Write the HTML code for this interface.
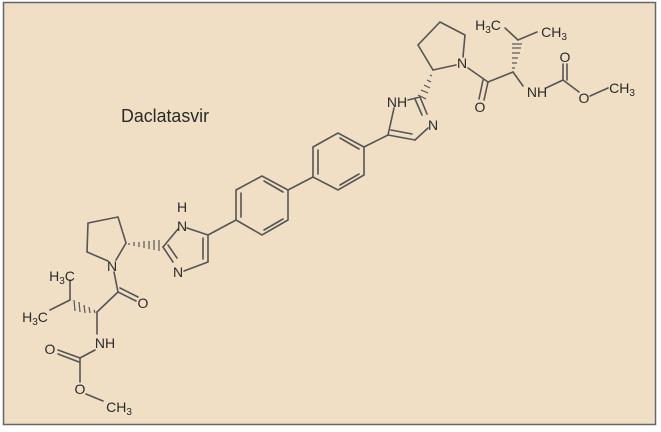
<!DOCTYPE html>
<html><head><style>
html,body{margin:0;padding:0;background:#fff;}
svg{display:block;}
text{font-family:"Liberation Sans",Arial,sans-serif;fill:#2a2a2a;}
</style></head><body>
<svg width="661" height="432" viewBox="0 0 661 432" xmlns="http://www.w3.org/2000/svg">
<rect x="0" y="0" width="661" height="432" fill="#ffffff"/>
<rect x="3.5" y="2.5" width="652" height="422" fill="#f0dfc5" stroke="#666" stroke-width="1.5"/>
<text x="121" y="122" font-size="18" textLength="88" lengthAdjust="spacingAndGlyphs">Daclatasvir</text>
<g stroke="#555" stroke-width="1.6" fill="none" stroke-linecap="round">
<polyline points="108,261 87,252 88,223 118,217 126,243 116,260"/>
<line x1="163" y1="247" x2="178" y2="229"/>
<line x1="187" y1="228" x2="208" y2="235"/>
<line x1="208" y1="235" x2="208" y2="262"/>
<line x1="203" y1="238" x2="203" y2="259"/>
<line x1="208" y1="262" x2="184" y2="271"/>
<line x1="163" y1="247" x2="173" y2="262"/>
<line x1="168" y1="245" x2="177" y2="258"/>
<line x1="208" y1="235" x2="236" y2="220"/>
<polygon points="236,190 262,176 288,190 288,220 262,235 236,220"/>
<line x1="241" y1="193" x2="241" y2="217"/>
<line x1="264" y1="181" x2="283" y2="192"/>
<line x1="264" y1="230" x2="283" y2="219"/>
<line x1="288" y1="190" x2="313" y2="177"/>
<polygon points="313,147 338,133 364,147 364,175 338,190 313,177"/>
<line x1="318" y1="150" x2="318" y2="174"/>
<line x1="340" y1="138" x2="359" y2="149"/>
<line x1="340" y1="185" x2="359" y2="174"/>
<line x1="364" y1="147" x2="388" y2="135"/>
<line x1="388" y1="135" x2="394" y2="108"/>
<line x1="388" y1="135" x2="415" y2="140"/>
<line x1="391" y1="130" x2="412" y2="134"/>
<line x1="415" y1="140" x2="428" y2="128"/>
<line x1="420" y1="97" x2="427" y2="114"/>
<line x1="415" y1="99" x2="422" y2="115"/>
<line x1="420" y1="97" x2="408" y2="100"/>
<polyline points="433,70 418,45 440,22 465,35 463,57"/>
<line x1="433" y1="70" x2="456" y2="65"/>
<line x1="468" y1="68" x2="488" y2="82"/>
<line x1="488" y1="82" x2="484" y2="100"/>
<line x1="483" y1="80" x2="479" y2="99"/>
<line x1="488" y1="82" x2="513" y2="72"/>
<line x1="513" y1="72" x2="523" y2="86"/>
<line x1="518" y1="40" x2="505" y2="28"/>
<line x1="518" y1="40" x2="537" y2="32"/>
<line x1="546" y1="88" x2="563" y2="80"/>
<line x1="563" y1="80" x2="563" y2="64"/>
<line x1="567" y1="80" x2="567" y2="64"/>
<line x1="563" y1="80" x2="579" y2="92"/>
<line x1="590" y1="96" x2="608" y2="88"/>
<line x1="114" y1="272" x2="118" y2="292"/>
<line x1="118" y1="292" x2="136" y2="301"/>
<line x1="120" y1="288" x2="138" y2="297"/>
<line x1="118" y1="292" x2="97" y2="312"/>
<line x1="70" y1="300" x2="70" y2="280"/>
<line x1="70" y1="300" x2="50" y2="310"/>
<line x1="97" y1="312" x2="97" y2="334"/>
<line x1="95" y1="350" x2="80" y2="358"/>
<line x1="80" y1="358" x2="80" y2="382"/>
<line x1="80" y1="358" x2="58" y2="350"/>
<line x1="79" y1="362" x2="58" y2="354"/>
<line x1="86" y1="394" x2="103" y2="401"/>
</g>
<g stroke="#555" stroke-width="1.2">
<line x1="129" y1="243" x2="129" y2="245"/>
<line x1="134" y1="242" x2="134" y2="246"/>
<line x1="139" y1="242" x2="139" y2="247"/>
<line x1="144" y1="241" x2="144" y2="248"/>
<line x1="149" y1="241" x2="149" y2="249"/>
<line x1="154" y1="240" x2="154" y2="250"/>
<line x1="159" y1="240" x2="159" y2="251"/>
<line x1="430" y1="75" x2="432" y2="76"/>
<line x1="427" y1="80" x2="431" y2="82"/>
<line x1="424" y1="85" x2="430" y2="88"/>
<line x1="421" y1="90" x2="428" y2="93"/>
<line x1="418" y1="95" x2="426" y2="99"/>
<line x1="512" y1="68" x2="515" y2="68"/>
<line x1="512" y1="63" x2="517" y2="63"/>
<line x1="512" y1="58" x2="518" y2="58"/>
<line x1="512" y1="53" x2="520" y2="53"/>
<line x1="512" y1="48" x2="521" y2="48"/>
<line x1="512" y1="44" x2="522" y2="44"/>
<line x1="94" y1="310" x2="95" y2="313"/>
<line x1="89" y1="307" x2="90" y2="313"/>
<line x1="84" y1="305" x2="85" y2="313"/>
<line x1="79" y1="302" x2="80" y2="312"/>
<line x1="74" y1="300" x2="75" y2="311"/>
</g>
<g font-size="14">
<text x="112" y="271" text-anchor="middle">N</text>
<text x="182" y="212" text-anchor="middle">H</text>
<text x="182" y="231" text-anchor="middle">N</text>
<text x="178" y="277" text-anchor="middle">N</text>
<text x="143" y="308" text-anchor="middle">O</text>
<text x="62" y="281" text-anchor="middle">H<tspan font-size="10" dy="3">3</tspan><tspan dy="-3">C</tspan></text>
<text x="35" y="322" text-anchor="middle">H<tspan font-size="10" dy="3">3</tspan><tspan dy="-3">C</tspan></text>
<text x="105" y="348" text-anchor="middle">NH</text>
<text x="50" y="354" text-anchor="middle">O</text>
<text x="80" y="394" text-anchor="middle">O</text>
<text x="119" y="412" text-anchor="middle">CH<tspan font-size="10" dy="3">3</tspan></text>
<text x="397" y="107" text-anchor="middle">NH</text>
<text x="433" y="130" text-anchor="middle">N</text>
<text x="462" y="68" text-anchor="middle">N</text>
<text x="480" y="112" text-anchor="middle">O</text>
<text x="488" y="30" text-anchor="middle">H<tspan font-size="10" dy="3">3</tspan><tspan dy="-3">C</tspan></text>
<text x="554" y="37" text-anchor="middle">CH<tspan font-size="10" dy="3">3</tspan></text>
<text x="537" y="97" text-anchor="middle">NH</text>
<text x="565" y="62" text-anchor="middle">O</text>
<text x="584" y="103" text-anchor="middle">O</text>
<text x="622" y="93" text-anchor="middle">CH<tspan font-size="10" dy="3">3</tspan></text>
</g>
</svg>
</body></html>
